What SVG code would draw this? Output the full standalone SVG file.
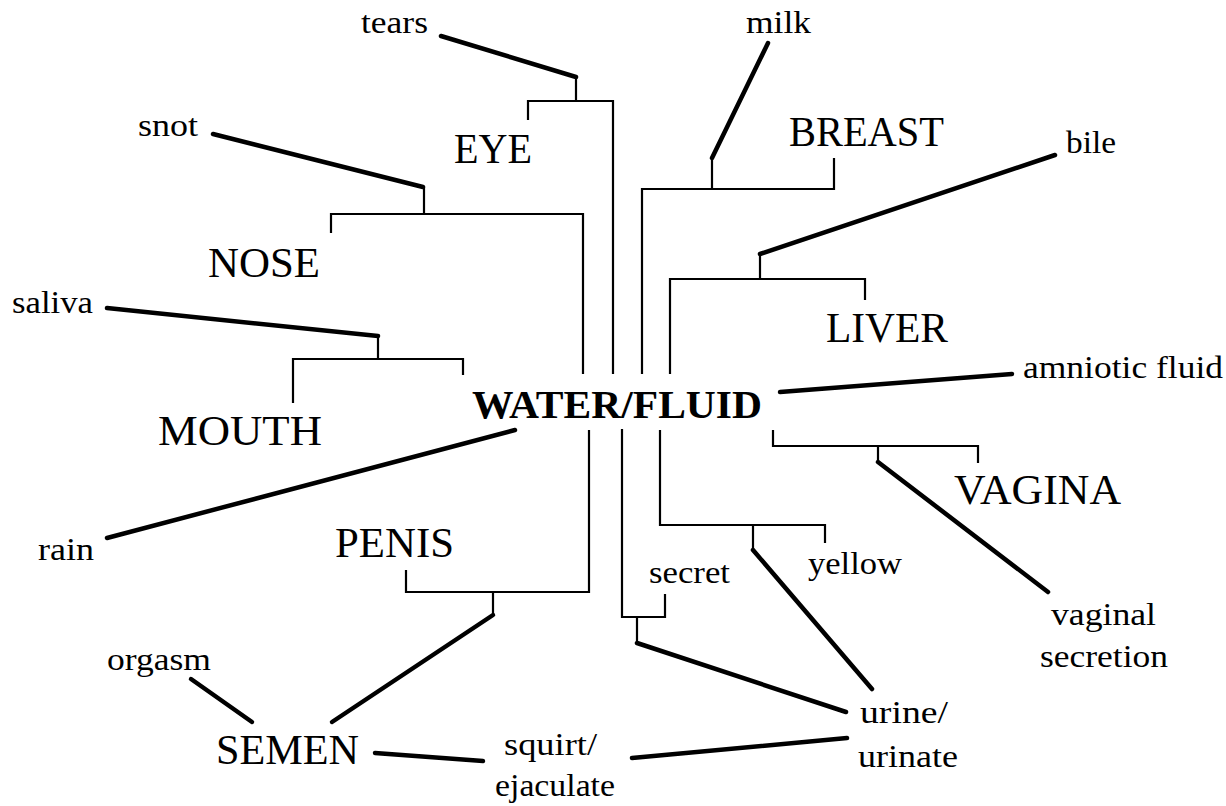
<svg xmlns="http://www.w3.org/2000/svg" width="1226" height="806" viewBox="0 0 1226 806">
<style>
text { font-family: "Liberation Serif", "Times New Roman", serif; fill: #000; }
.s { font-size: 32px; }
.b { font-size: 42px; }
.c { font-size: 40px; font-weight: bold; }
.thin { fill: none; stroke: #000; stroke-width: 2.2; stroke-linejoin: miter; }
.thick { fill: none; stroke: #000; stroke-width: 4.5; stroke-linecap: round; }
</style>
<rect width="1226" height="806" fill="#fff"/>
<g id="connectors">
  <path class="thin" d="M528,120 V101 H613 V374 M576,101 V77"/>
  <path class="thin" d="M642,374 V189 H834 V158 M712,189 V158"/>
  <path class="thin" d="M331,233 V214 H583 V374 M424,214 V187"/>
  <path class="thin" d="M293,403 V359 H463 V375 M378,359 V336"/>
  <path class="thin" d="M670,374 V279 H865 V300 M760,279 V254"/>
  <path class="thin" d="M773,430 V446 H978 V463 M878,446 V462"/>
  <path class="thin" d="M660,430 V525 H825 V543 M753,525 V550"/>
  <path class="thin" d="M622,429 V617 H665 V594 M637,617 V643"/>
  <path class="thin" d="M589,430 V592 H406 V570 M493,592 V615"/>
  <line class="thick" x1="441" y1="36" x2="576" y2="77"/>
  <line class="thick" x1="768" y1="43" x2="712" y2="158"/>
  <line class="thick" x1="213" y1="134" x2="423" y2="187"/>
  <line class="thick" x1="107" y1="308" x2="378" y2="336"/>
  <line class="thick" x1="1055" y1="155" x2="760" y2="254"/>
  <line class="thick" x1="780" y1="392" x2="1012" y2="374"/>
  <line class="thick" x1="515" y1="430" x2="107" y2="538"/>
  <line class="thick" x1="878" y1="462" x2="1048" y2="592"/>
  <line class="thick" x1="753" y1="550" x2="872" y2="689"/>
  <line class="thick" x1="637" y1="643" x2="846" y2="712"/>
  <line class="thick" x1="847" y1="738" x2="632" y2="758"/>
  <line class="thick" x1="375" y1="753" x2="483" y2="761"/>
  <line class="thick" x1="493" y1="615" x2="332" y2="722"/>
  <line class="thick" x1="191" y1="679" x2="252" y2="722"/>
</g>
<g id="water-fluid"><text class="c" x="472" y="418" textLength="290" lengthAdjust="spacingAndGlyphs">WATER/FLUID</text></g>
<g id="eye"><text class="b" x="454" y="163" textLength="78" lengthAdjust="spacingAndGlyphs">EYE</text></g>
<g id="nose"><text class="b" x="208" y="277" textLength="112" lengthAdjust="spacingAndGlyphs">NOSE</text></g>
<g id="mouth"><text class="b" x="158" y="445" textLength="164" lengthAdjust="spacingAndGlyphs">MOUTH</text></g>
<g id="breast"><text class="b" x="789" y="146" textLength="155" lengthAdjust="spacingAndGlyphs">BREAST</text></g>
<g id="liver"><text class="b" x="826" y="342" textLength="122" lengthAdjust="spacingAndGlyphs">LIVER</text></g>
<g id="vagina"><text class="b" x="954" y="504" textLength="167" lengthAdjust="spacingAndGlyphs">VAGINA</text></g>
<g id="penis"><text class="b" x="335" y="557" textLength="119" lengthAdjust="spacingAndGlyphs">PENIS</text></g>
<g id="semen"><text class="b" x="216" y="764" textLength="143" lengthAdjust="spacingAndGlyphs">SEMEN</text></g>
<g id="tears"><text class="s" x="361" y="33" textLength="67" lengthAdjust="spacingAndGlyphs">tears</text></g>
<g id="milk"><text class="s" x="746" y="33" textLength="65" lengthAdjust="spacingAndGlyphs">milk</text></g>
<g id="snot"><text class="s" x="138" y="136" textLength="60" lengthAdjust="spacingAndGlyphs">snot</text></g>
<g id="saliva"><text class="s" x="12" y="313" textLength="81" lengthAdjust="spacingAndGlyphs">saliva</text></g>
<g id="bile"><text class="s" x="1066" y="153" textLength="50" lengthAdjust="spacingAndGlyphs">bile</text></g>
<g id="amniotic-fluid"><text class="s" x="1023" y="378" textLength="200" lengthAdjust="spacingAndGlyphs">amniotic fluid</text></g>
<g id="rain"><text class="s" x="38" y="560" textLength="56" lengthAdjust="spacingAndGlyphs">rain</text></g>
<g id="orgasm"><text class="s" x="107" y="670" textLength="104" lengthAdjust="spacingAndGlyphs">orgasm</text></g>
<g id="squirt-ejaculate">
  <text class="s" x="504" y="755" textLength="93" lengthAdjust="spacingAndGlyphs">squirt/</text>
  <text class="s" x="495" y="796" textLength="120" lengthAdjust="spacingAndGlyphs">ejaculate</text>
</g>
<g id="secret"><text class="s" x="649" y="583" textLength="81" lengthAdjust="spacingAndGlyphs">secret</text></g>
<g id="yellow"><text class="s" x="808" y="574" textLength="94" lengthAdjust="spacingAndGlyphs">yellow</text></g>
<g id="urine-urinate">
  <text class="s" x="860" y="723" textLength="88" lengthAdjust="spacingAndGlyphs">urine/</text>
  <text class="s" x="858" y="767" textLength="100" lengthAdjust="spacingAndGlyphs">urinate</text>
</g>
<g id="vaginal-secretion">
  <text class="s" x="1051" y="625" textLength="105" lengthAdjust="spacingAndGlyphs">vaginal</text>
  <text class="s" x="1040" y="667" textLength="128" lengthAdjust="spacingAndGlyphs">secretion</text>
</g>
</svg>
